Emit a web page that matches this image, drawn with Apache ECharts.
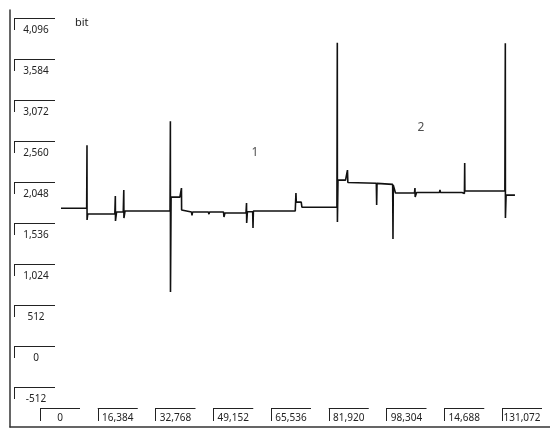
<!DOCTYPE html>
<html>
<head>
<meta charset="UTF-8">
<title></title>
<script src="https://cdn.jsdelivr.net/npm/echarts@6.0.0/dist/echarts.min.js"></script>
<style>
  html, body { margin: 0; padding: 0; background: #fff; }
  #main { width: 550px; height: 437px; }
</style>
</head>
<body>
<div id="main"></div>
<script>
// sample position of each point of the trace
var sampleX = [
  0, 7300, 7390, 7410, 7600, 15300, 15450, 15490, 15800, 17700,
  17850, 17890, 18200, 24000, 31000, 31100, 31130, 31300, 33800, 34250,
  34290, 34700, 37100, 37250, 37400, 41900, 42080, 42250, 46200, 46340,
  46600, 52600, 52750, 52790, 53000, 54500, 54590, 54700, 66600, 66800,
  66900, 68300, 68500, 78450, 78560, 78590, 78750, 80900, 81450, 81560,
  89650, 89750, 89850, 94300, 94390, 94480, 95100, 100500, 100640, 100700,
  101100, 107600, 107750, 107900, 114000, 114700, 114780, 114830, 126200, 126330,
  126360, 126550, 129070
];
// value in bit
var bitValue = [
  1865, 1865, 2659, 1716, 1792, 1792, 2018, 1704, 1817, 1817,
  2093, 1741, 1829, 1829, 1829, 2961, 811, 2005, 2005, 2118,
  1842, 1817, 1817, 1775, 1817, 1817, 1790, 1817, 1817, 1754,
  1805, 1808, 1930, 1678, 1820, 1820, 1616, 1829, 1829, 2056,
  1942, 1942, 1877, 1877, 3947, 1691, 2219, 2219, 2345, 2188,
  2180, 1905, 2178, 2165, 1477, 2156, 2056, 2056, 2118, 2005,
  2062, 2062, 2095, 2062, 2062, 2050, 2433, 2081, 2081, 3941,
  1741, 2030, 2030
];

// tick labels
var yTickLabels = ['-512', '0', '512', '1,024', '1,536', '2,048', '2,560', '3,072', '3,584', '4,096'];
var xTickLabels = ['0', '16,384', '32,768', '49,152', '65,536', '81,920', '98,304', '14,688', '131,072'];

// numbered marks
var markText = ['1', '2'];
var markX = [55150, 102350];
var markY = [2571, 2885];

var ink = '#222';
var font = 'Noto Sans';

var trace = [];
for (var i = 0; i < sampleX.length; i++) {
  trace.push([sampleX[i], bitValue[i]]);
}
var marks = [];
for (var j = 0; j < markText.length; j++) {
  marks.push({ value: [markX[j], markY[j]], name: markText[j] });
}

var myChart = echarts.init(document.getElementById('main'));

var option = {
  animation: false,
  backgroundColor: '#fff',
  title: {
    text: 'bit',
    left: 70,
    top: 12,
    textStyle: { fontSize: 11, fontWeight: 'normal', color: ink, fontFamily: font }
  },
  grid: [
    { left: 61, right: 28, top: 31, bottom: 40 },   // trace
    { left: 14, width: 45, top: 18, bottom: 50 },   // y label boxes
    { left: 40, right: 48, top: 300, bottom: 29 },  // x label boxes
    { left: 10, right: 0, top: 10, bottom: 10 }     // frame
  ],
  xAxis: [
    { gridIndex: 0, type: 'value', min: 0, max: 131072, show: false },
    { gridIndex: 1, type: 'value', show: false },
    {
      gridIndex: 2, type: 'value', min: 0, max: 131072, interval: 16384,
      axisLine: { show: false },
      axisTick: { show: true, length: 13, lineStyle: { color: ink } },
      splitLine: { show: false },
      axisLabel: {
        margin: 0,
        align: 'left',
        verticalAlign: 'top',
        showMinLabel: true,
        showMaxLabel: true,
        formatter: function (v) {
          return '{l|}\n{t|' + xTickLabels[Math.round(v / 16384)] + '}';
        },
        rich: {
          l: { width: 40, height: 1, lineHeight: 1, backgroundColor: ink },
          t: { width: 40, align: 'center', fontSize: 10, lineHeight: 18, color: ink, fontFamily: font }
        }
      }
    },
    {
      gridIndex: 3, type: 'value', min: 0, max: 1,
      axisLine: { show: true, lineStyle: { color: '#333', width: 1.5 } },
      axisTick: { show: false }, axisLabel: { show: false }, splitLine: { show: false }
    }
  ],
  yAxis: [
    { gridIndex: 0, type: 'value', min: -512, max: 4096, show: false },
    {
      gridIndex: 1, type: 'value', min: -512, max: 4096, interval: 512,
      axisLine: { show: false },
      axisTick: { show: true, inside: true, length: 41, lineStyle: { color: ink } },
      splitLine: { show: false },
      axisLabel: {
        inside: true,
        margin: 0,
        align: 'left',
        verticalAlign: 'top',
        showMinLabel: true,
        showMaxLabel: true,
        formatter: function (v) {
          return '{b|}{t|' + yTickLabels[Math.round((v + 512) / 512)] + '}';
        },
        rich: {
          b: { width: 1, height: 12, backgroundColor: ink, verticalAlign: 'top' },
          t: { width: 42, align: 'center', fontSize: 10, lineHeight: 25, color: ink, fontFamily: font }
        }
      }
    },
    { gridIndex: 2, type: 'value', show: false },
    {
      gridIndex: 3, type: 'value', min: 0, max: 1,
      axisLine: { show: true, lineStyle: { color: '#333', width: 1.5 } },
      axisTick: { show: false }, axisLabel: { show: false }, splitLine: { show: false }
    }
  ],
  series: [
    {
      name: 'signal',
      type: 'line',
      xAxisIndex: 0,
      yAxisIndex: 0,
      data: trace,
      showSymbol: false,
      symbol: 'none',
      lineStyle: { color: '#111', width: 1.6 }
    },
    {
      name: 'marks',
      type: 'scatter',
      xAxisIndex: 0,
      yAxisIndex: 0,
      data: marks,
      symbolSize: 1,
      itemStyle: { color: 'rgba(0,0,0,0)' },
      label: {
        show: true,
        position: 'inside',
        formatter: '{b}',
        fontSize: 12,
        color: ink,
        fontFamily: font
      }
    }
  ]
};

myChart.setOption(option);
</script>
</body>
</html>
